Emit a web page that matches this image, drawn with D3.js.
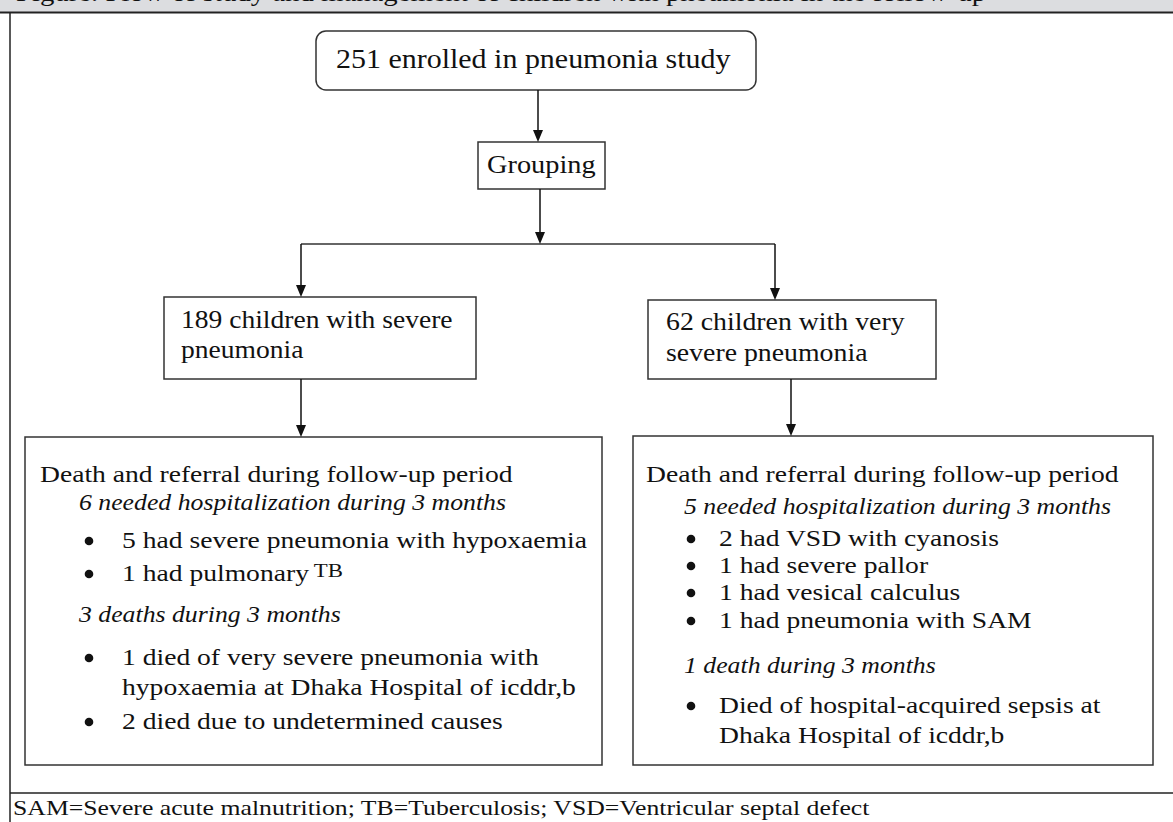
<!DOCTYPE html>
<html>
<head>
<meta charset="utf-8">
<script src="https://cdn.jsdelivr.net/npm/d3@7"></script>
<style>
  body { margin: 0; background: #fff; }
  svg { display: block; }
</style>
</head>
<body>
<div id="chart"></div>
<script>
// flowchart content
let titleText   = "Figure. Flow of study and management of children with pneumonia in the follow-up";
let topLabel    = ["251 enrolled in pneumonia study"];
let groupLabel  = ["Grouping"];
let leftLabel   = ["189 children with severe", "pneumonia"];
let rightLabel  = ["62 children with very", "severe pneumonia"];

// detail boxes: [kind, text, superscript]
let leftDetail = [
  ["head", "Death and referral during follow-up period"],
  ["sub", "6 needed hospitalization during 3 months"],
  ["bullet", "5 had severe pneumonia with hypoxaemia"],
  ["bullet", "1 had pulmonary", "TB"],
  ["sub", "3 deaths during 3 months"],
  ["bullet", "1 died of very severe pneumonia with"],
  ["cont", "hypoxaemia at Dhaka Hospital of icddr,b"],
  ["bullet", "2 died due to undetermined causes"]
];
let rightDetail = [
  ["head", "Death and referral during follow-up period"],
  ["sub", "5 needed hospitalization during 3 months"],
  ["bullet", "2 had VSD with cyanosis"],
  ["bullet", "1 had severe pallor"],
  ["bullet", "1 had vesical calculus"],
  ["bullet", "1 had pneumonia with SAM"],
  ["sub", "1 death during 3 months"],
  ["bullet", "Died of hospital-acquired sepsis at"],
  ["cont", "Dhaka Hospital of icddr,b"]
];
let footnote = "SAM=Severe acute malnutrition; TB=Tuberculosis; VSD=Ventricular septal defect";

let chart_width  = 1173;
let chart_height = 822;
let font = "'Liberation Serif', 'Times New Roman', serif";
let stroke = "#333";

// layout (pixel positions)
let boxes = {
  top:   { x: 316, y: 31,  w: 440, h: 59, rx: 10 },
  group: { x: 478, y: 142, w: 127, h: 47 },
  left:  { x: 164, y: 297, w: 312, h: 82 },
  right: { x: 648, y: 300, w: 288, h: 79 },
  ldet:  { x: 25,  y: 437, w: 577, h: 328 },
  rdet:  { x: 633, y: 436, w: 520, h: 329 }
};
let leftLineY  = [482, 510, 548, 581, 622, 665, 695, 729];
let rightLineY = [482, 514, 546, 573, 600, 628, 673, 713, 743];

let svg = d3.select("#chart")
  .append("svg")
  .attr("width", chart_width)
  .attr("height", chart_height);

// text with a horizontal stretch, the source face is wider than Times
function addText(parent, str, x, y, size, sx) {
  return parent.append("text")
    .attr("transform", `translate(${x},${y}) scale(${sx},1)`)
    .attr("font-family", font)
    .attr("font-size", size)
    .attr("fill", "#111")
    .text(str);
}

//header band
svg.append("rect")
  .attr("x", 0).attr("y", 0)
  .attr("width", chart_width).attr("height", 12)
  .attr("fill", "#dcdde0");

addText(svg, titleText, 16, 1, 25, 1.15);

svg.append("line")
  .attr("x1", 0).attr("x2", chart_width)
  .attr("y1", 12.5).attr("y2", 12.5)
  .attr("stroke", "#222").attr("stroke-width", 2);

//outer frame
svg.append("line")
  .attr("x1", 10).attr("x2", 10)
  .attr("y1", 13).attr("y2", chart_height)
  .attr("stroke", "#222").attr("stroke-width", 1.5);

svg.append("line")
  .attr("x1", 10).attr("x2", chart_width)
  .attr("y1", 793).attr("y2", 793)
  .attr("stroke", "#222").attr("stroke-width", 1.5);

//boxes
Object.values(boxes).forEach(b => {
  svg.append("rect")
    .attr("x", b.x).attr("y", b.y)
    .attr("width", b.w).attr("height", b.h)
    .attr("rx", b.rx || 0)
    .attr("fill", "#fff")
    .attr("stroke", stroke)
    .attr("stroke-width", 1.5);
});

function boxText(lines, x, y0, dy, size, sx) {
  let g = svg.append("g");
  lines.forEach((d, i) => addText(g, d, x, y0 + i * dy, size, sx));
}

boxText(topLabel, 336, 68, 0, 27, 1.11);
boxText(groupLabel, 487, 173, 0, 26, 1.09);
boxText(leftLabel, 181, 328, 30, 26, 1.06);
boxText(rightLabel, 666, 330, 31, 26, 1.07);

//connector
svg.append("line")
  .attr("x1", 301).attr("x2", 775)
  .attr("y1", 244).attr("y2", 244)
  .attr("stroke", stroke).attr("stroke-width", 1.5);

//arrows
let arrows = [
  [538, 90, 142],
  [540, 189, 244],
  [301, 244, 297],
  [775, 244, 300],
  [301, 379, 437],
  [791, 379, 436]
];

arrows.forEach(a => {
  svg.append("line")
    .attr("x1", a[0]).attr("x2", a[0])
    .attr("y1", a[1]).attr("y2", a[2] - 10)
    .attr("stroke", "#111").attr("stroke-width", 1.5);
  svg.append("path")
    .attr("d", `M${a[0] - 5},${a[2] - 12} L${a[0] + 5},${a[2] - 12} L${a[0]},${a[2]} Z`)
    .attr("fill", "#111");
});

//detail boxes
function detail(items, ys, b, pad) {
  let g = svg.append("g");
  items.forEach((d, i) => {
    let y = ys[i];
    let x = b.x + pad[0];
    let italic = d[0] === "sub";
    if (italic) x = b.x + pad[1];
    if (d[0] === "bullet" || d[0] === "cont") x = b.x + pad[3];
    if (d[0] === "bullet") {
      g.append("circle")
        .attr("cx", b.x + pad[2]).attr("cy", y - 7)
        .attr("r", 4.3)
        .attr("fill", "#111");
    }
    let t = addText(g, d[1], x, y, 23, italic ? 1.12 : 1.2)
      .attr("font-style", italic ? "italic" : "normal");
    if (d[2]) {
      t.append("tspan")
        .attr("dx", 4).attr("dy", -4)
        .attr("font-size", 19)
        .text(d[2]);
    }
  });
}

detail(leftDetail, leftLineY, boxes.ldet, [15, 54, 64, 97]);
detail(rightDetail, rightLineY, boxes.rdet, [13, 51, 58, 86]);

//footnote
addText(svg, footnote, 13, 815, 22, 1.17);
</script>
</body>
</html>
